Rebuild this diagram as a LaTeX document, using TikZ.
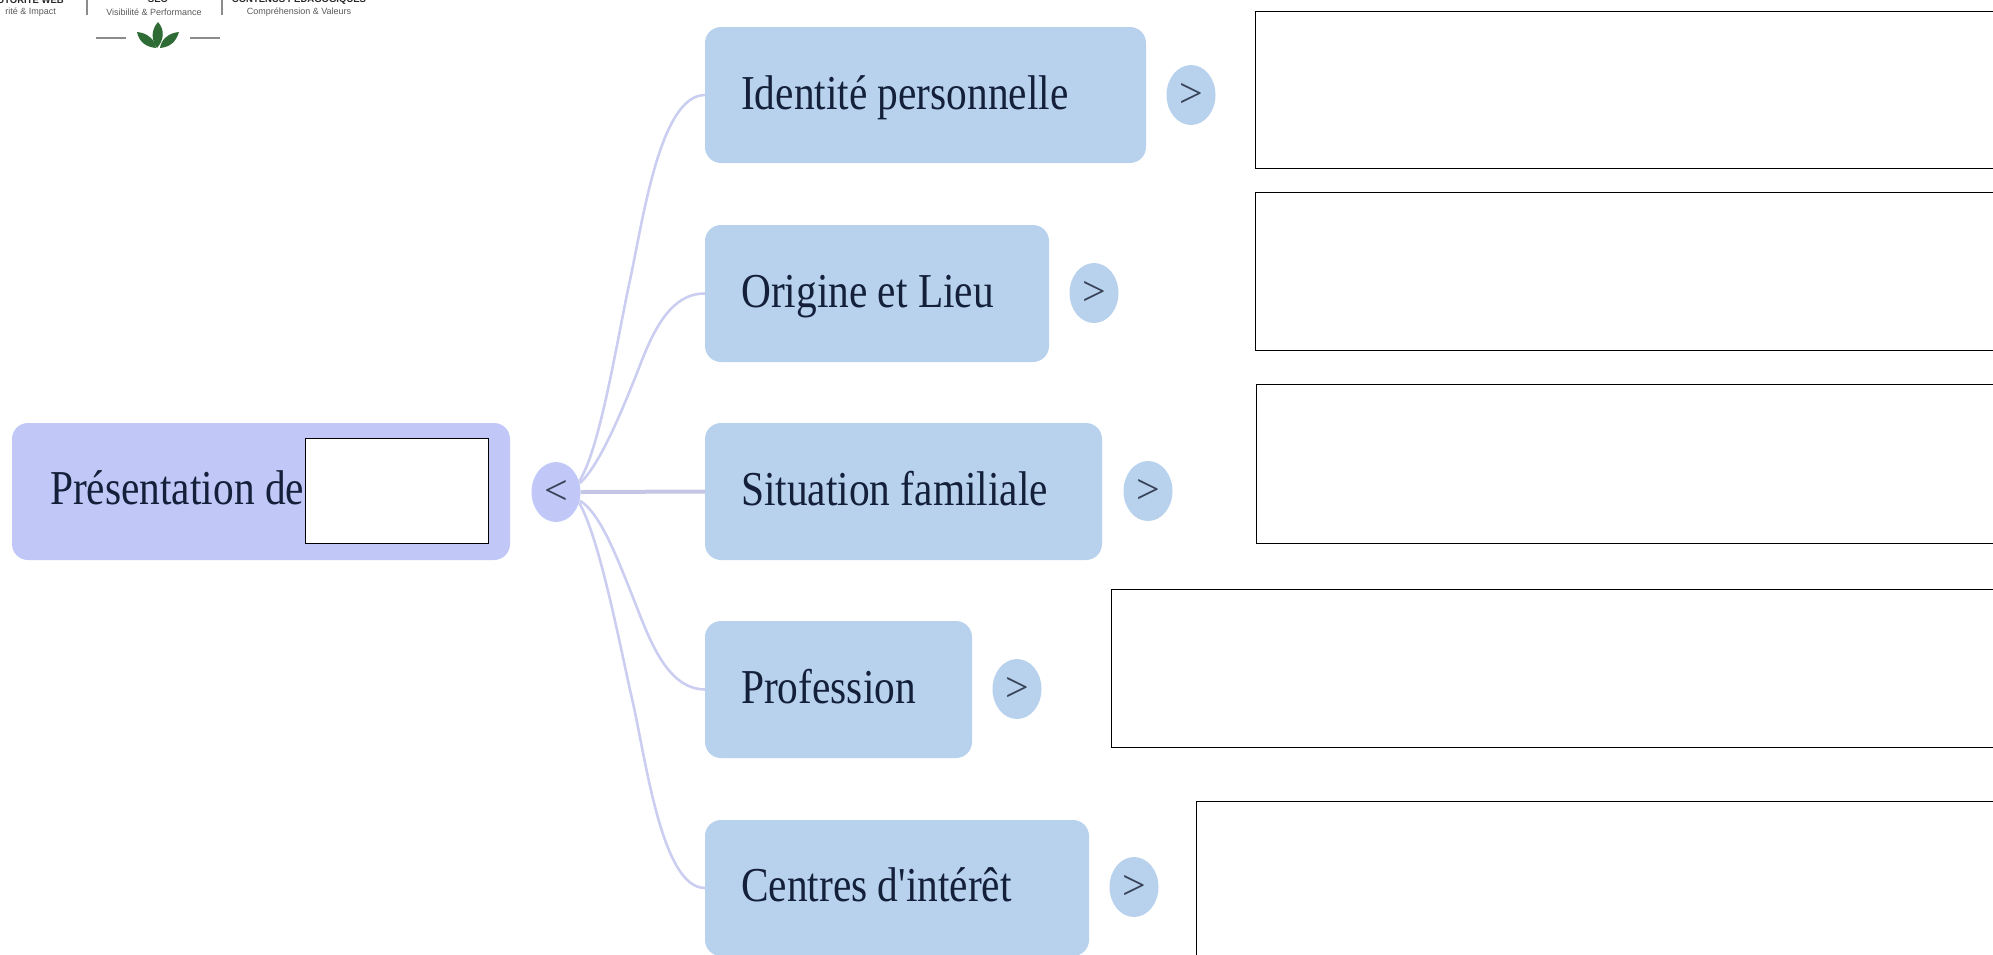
\documentclass[tikz,border=0pt]{standalone}
\usepackage{graphicx}
\usepackage{fontspec}
\setmainfont{Liberation Serif}
\newfontfamily\labelfont{Liberation Serif}
\newfontfamily\logofont{Liberation Sans}
\definecolor{rootfill}{HTML}{C1C8F8}
\definecolor{branchfill}{HTML}{B8D2EE}
\definecolor{linkcol}{HTML}{CBCEF0}
\definecolor{inkcol}{HTML}{14203A}
\definecolor{leafcol}{HTML}{2F6B35}
\newcommand{\lbltext}[1]{\scalebox{0.985}[1.16]{#1}}
\usetikzlibrary{shapes.geometric}
\tikzset{
  x=1pt,y=-1pt,
  boxbase/.style={rounded corners=16pt,anchor=north west,inner sep=0pt,outer sep=0pt},
  rootbox/.style={boxbase,fill=rootfill},
  branchbox/.style={boxbase,fill=branchfill},
  lbl/.style={anchor=base west,inner sep=0pt,text=inkcol,font=\labelfont\fontsize{42}{42}\selectfont},
  toggle/.style={ellipse,minimum width=49pt,minimum height=60pt,inner sep=0pt,text=inkcol!85,font=\labelfont\fontsize{42}{42}\selectfont},
  rootog/.style={toggle,fill=rootfill},
  brtog/.style={toggle,fill=branchfill},
  mask/.style={draw=black,line width=1pt,fill=white,anchor=north west,inner sep=0pt,outer sep=0pt},
  link/.style={draw=linkcol,line width=2.6pt},
  linkstraight/.style={draw=linkcol!90!gray,line width=4pt},
  logotxt/.style={text=black!65,font=\logofont\fontsize{9}{9}\selectfont,inner sep=0pt},
  logohead/.style={text=black!85,font=\logofont\bfseries\fontsize{9.5}{9.5}\selectfont,inner sep=0pt},
  logoline/.style={draw=black!45,line width=1.2pt},
  leaf/.style={fill=leafcol,draw=none}
}
\begin{document}
\begin{tikzpicture}
\useasboundingbox (0,0) rectangle (1993,954);
\clip (0,0) rectangle (1993,954);
% logo
\node[logotxt,anchor=east] (lg1) at (56,12) {rité \& Impact};
\node[logotxt] (lg2) at (154,12) {Visibilité \& Performance};
\node[logotxt] (lg3) at (299,12) {Compréhension \& Valeurs};
\node[logohead,anchor=east] (lgh1) at (64,-1) {AUTORITÉ WEB};
\node[logohead] (lgh2) at (158,-1) {SEO};
\node[logohead] (lgh3) at (299,-1) {CONTENUS PÉDAGOGIQUES};
\draw[logoline] (87,0) -- (87,15);
\draw[logoline] (222,0) -- (222,15);
\draw[logoline] (96,38) -- (126,38);
\draw[logoline] (190,38) -- (220,38);
\path[leaf] (158,22) .. controls (151,30) and (151,40) .. (157,48) .. controls (164,40) and (165,30) .. (158,22);
\path[leaf] (137,32) .. controls (139,42) and (146,47) .. (156,48) .. controls (155,40) and (148,33) .. (137,32);
\path[leaf] (179,32) .. controls (176,42) and (170,47) .. (160,48) .. controls (161,40) and (168,33) .. (179,32);
% nodes
\node[rootbox,minimum width=498pt,minimum height=137pt] (root) at (12,423) {};
\node[branchbox,minimum width=441pt,minimum height=136pt] (b1) at (705,27) {};
\node[branchbox,minimum width=344pt,minimum height=137pt] (b2) at (705,225) {};
\node[branchbox,minimum width=397pt,minimum height=137pt] (b3) at (705,423) {};
\node[branchbox,minimum width=267pt,minimum height=137pt] (b4) at (705,621) {};
\node[branchbox,minimum width=384pt,minimum height=136pt] (b5) at (705,820) {};
\node[rootog] (t0) at (556,492) {<};
\node[brtog] (t1) at (1191,95) {>};
\node[brtog] (t2) at (1094,293) {>};
\node[brtog] (t3) at (1148,491) {>};
\node[brtog] (t4) at (1017,689) {>};
\node[brtog] (t5) at (1134,887) {>};
% connectors
\draw[link] (t0.25) .. controls (600,450) and (617,340) .. (630,280) .. controls (643,220) and (660,95) .. (b1.west);
\draw[link] (t0.20) .. controls (600,465) and (622,410) .. (635,378) .. controls (648,345) and (665,293) .. (b2.west);
\draw[linkstraight] (t0.east) -- (b3.west);
\draw[link] (t0.-20) .. controls (600,512) and (618,560) .. (632,595) .. controls (648,635) and (665,689) .. (b4.west);
\draw[link] (t0.-25) .. controls (598,535) and (617,630) .. (630,690) .. controls (645,750) and (660,888) .. (b5.west);
% labels
\node[lbl] (l0) at (50,504) {\lbltext{Présentation de}};
\node[lbl] (l1) at (741,109) {\lbltext{Identité personnelle}};
\node[lbl] (l2) at (741,307) {\lbltext{Origine et Lieu}};
\node[lbl] (l3) at (741,505) {\lbltext{Situation familiale}};
\node[lbl] (l4) at (741,703) {\lbltext{Profession}};
\node[lbl] (l5) at (741,901) {\lbltext{Centres d'intérêt}};
% masks
\node[mask,minimum width=183pt,minimum height=105pt] (m0) at (305,438) {};
\node[mask,minimum width=760pt,minimum height=157pt] (m1) at (1255,11) {};
\node[mask,minimum width=760pt,minimum height=158pt] (m2) at (1255,192) {};
\node[mask,minimum width=760pt,minimum height=159pt] (m3) at (1256,384) {};
\node[mask,minimum width=900pt,minimum height=158pt] (m4) at (1111,589) {};
\node[mask,minimum width=820pt,minimum height=170pt] (m5) at (1196,801) {};
\end{tikzpicture}
\end{document}
